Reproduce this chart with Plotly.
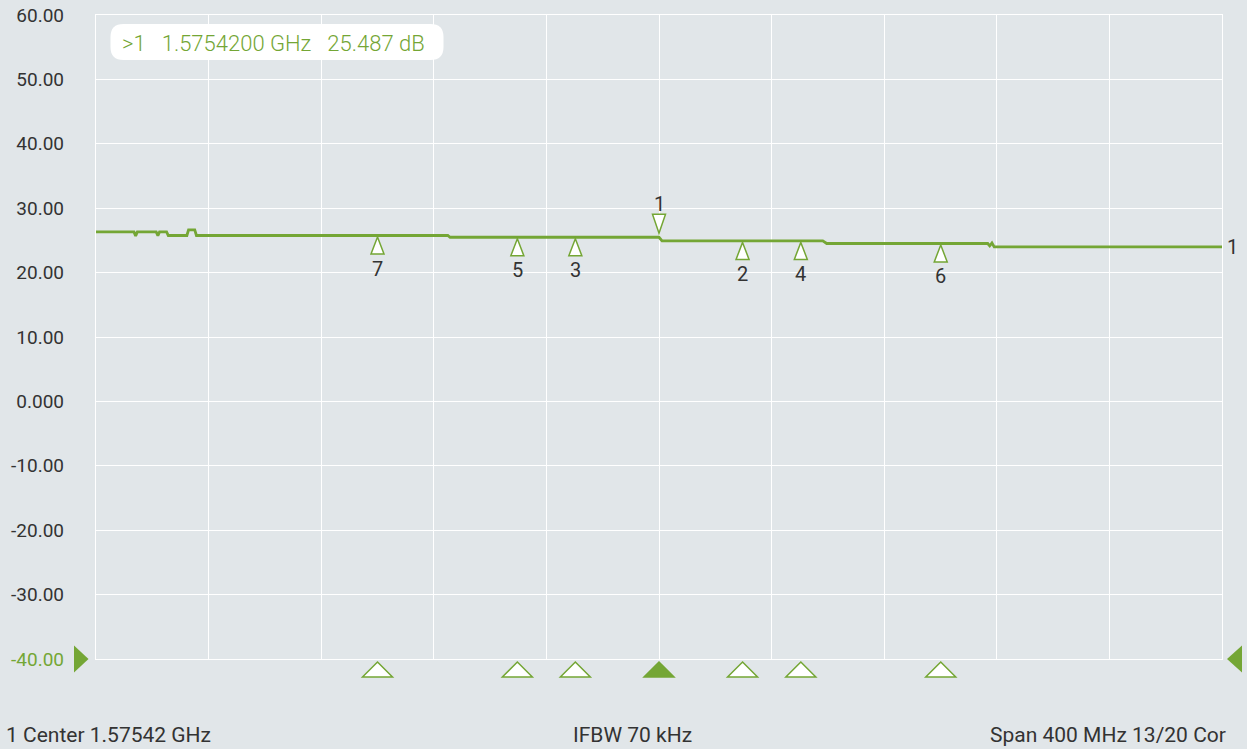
import plotly.graph_objects as go

# ---- data ----
trace_freq_mhz = [1375.42, 1388.9, 1389.5, 1390.1, 1396.8, 1397.4, 1398.0, 1400.5, 1401.1,
                  1407.7, 1408.3, 1410.5, 1411.1, 1500.4, 1501.2, 1575.42, 1576.5,
                  1633.6, 1635.0, 1692.2, 1692.9, 1693.7, 1694.5, 1775.42]
trace_db = [26.32, 26.32, 25.70, 26.32, 26.32, 25.75, 26.32, 26.32, 25.76,
            25.76, 26.63, 26.63, 25.76, 25.76, 25.49, 25.49, 24.92,
            24.92, 24.52, 24.52, 24.15, 24.60, 23.99, 23.99]

marker_ids = ["7", "5", "3", "1", "2", "4", "6"]
marker_freq_mhz = [1475.42, 1525.1, 1545.7, 1575.42, 1605.1, 1625.8, 1675.5]
marker_db = [25.76, 25.49, 25.49, 25.487, 24.92, 24.92, 24.52]
active_marker = "1"

y_tickvals = [60, 50, 40, 30, 20, 10, 0, -10, -20, -30, -40]
y_ticktext = ["60.00", "50.00", "40.00", "30.00", "20.00", "10.00", "0.000",
              "-10.00", "-20.00", "-30.00", "-40.00"]

center_ghz = 1.57542
span_mhz = 400
readout = ">1   1.5754200 GHz   25.487 dB"
footer_left = "1 Center 1.57542 GHz"
footer_mid = "IFBW 70 kHz"
footer_right = "Span 400 MHz 13/20 Cor"

# ---- style ----
GREEN = "#74a635"
BG = "#e1e6e9"
TXT = "#333333"
FONT = "Roboto"
ML, MR, MT, MB = 95.5, 25, 15, 90

x_min = center_ghz * 1000 - span_mhz / 2
x_max = center_ghz * 1000 + span_mhz / 2
y_min, y_max = -40, 60


def tri_path(tip_y, base_y, half_w):
    # pixel path (y up) of a triangle with tip at (0, tip_y) and base at base_y
    return f"M0,{tip_y} L{half_w},{base_y} L{-half_w},{base_y} Z"


fig = go.Figure()
fig.add_trace(go.Scatter(
    x=trace_freq_mhz, y=trace_db, mode="lines",
    line=dict(color=GREEN, width=2.8), hoverinfo="skip", showlegend=False))

shapes = []
annotations = []
for mid, f, v in zip(marker_ids, marker_freq_mhz, marker_db):
    active = mid == active_marker
    # marker symbol on the trace
    shapes.append(dict(
        type="path", xref="x", yref="y", xsizemode="pixel", ysizemode="pixel",
        xanchor=f, yanchor=v,
        path=tri_path(4, 23, 6.5) if active else tri_path(-1.5, -18.5, 6.5),
        fillcolor="white", line=dict(color=GREEN, width=1.5), layer="above"))
    # marker symbol in the bottom strip
    shapes.append(dict(
        type="path", xref="x", yref="paper", xsizemode="pixel", ysizemode="pixel",
        xanchor=f, yanchor=0, path=tri_path(-3, -18, 15),
        fillcolor=GREEN if active else "white", line=dict(color=GREEN, width=1.5),
        layer="above"))
    annotations.append(dict(x=f, y=v, text=mid, showarrow=False,
                            yshift=33 if active else -33,
                            font=dict(family=FONT, size=20, color=TXT)))

# reference-level pointers at the bottom gridline
shapes.append(dict(type="path", xref="paper", yref="paper", xsizemode="pixel",
                   ysizemode="pixel", xanchor=0, yanchor=0,
                   path="M-7.5,0 L-22,13.5 L-22,-13.5 Z", fillcolor=GREEN,
                   line=dict(width=0), layer="above"))
shapes.append(dict(type="path", xref="paper", yref="paper", xsizemode="pixel",
                   ysizemode="pixel", xanchor=1, yanchor=0,
                   path="M5,0 L20,13.5 L20,-13.5 Z", fillcolor=GREEN,
                   line=dict(width=0), layer="above"))

annotations.append(dict(x=x_max, y=trace_db[-1], text="1", showarrow=False,
                        xanchor="left", xshift=3,
                        font=dict(family=FONT, size=20, color=TXT)))

# rounded readout box
r = 13
bx0, by0, bw, bh = 14.5, -9, 333, 36
path = (f"M{bx0+r},{by0} L{bx0+bw-r},{by0} Q{bx0+bw},{by0} {bx0+bw},{by0-r} "
        f"L{bx0+bw},{by0-bh+r} Q{bx0+bw},{by0-bh} {bx0+bw-r},{by0-bh} "
        f"L{bx0+r},{by0-bh} Q{bx0},{by0-bh} {bx0},{by0-bh+r} "
        f"L{bx0},{by0-r} Q{bx0},{by0} {bx0+r},{by0} Z")
shapes.append(dict(type="path", xref="paper", yref="paper", xsizemode="pixel",
                   ysizemode="pixel", xanchor=0, yanchor=1, path=path,
                   fillcolor="white", line=dict(width=0), layer="above"))
annotations.append(dict(xref="paper", yref="paper", x=0, y=1, xanchor="left",
                        yanchor="middle", xshift=24, yshift=-28, text=readout,
                        showarrow=False,
                        font=dict(family=FONT, size=22, color=GREEN, weight=300)))

annotations.append(dict(xref="paper", yref="paper", x=0, y=0, xanchor="left",
                        yanchor="middle", xshift=-92, yshift=-76, text=footer_left,
                        showarrow=False, font=dict(family=FONT, size=21, color=TXT)))
annotations.append(dict(xref="paper", yref="paper", x=0.5, y=0, xanchor="left",
                        yanchor="middle", xshift=-88, yshift=-76, text=footer_mid,
                        showarrow=False, font=dict(family=FONT, size=21, color=TXT)))
annotations.append(dict(xref="paper", yref="paper", x=1, y=0, xanchor="right",
                        yanchor="middle", xshift=6, yshift=-76, text=footer_right,
                        showarrow=False, font=dict(family=FONT, size=21, color=TXT)))

ticktext = [t if v != y_min else f"<span style='color:{GREEN}'>{t}</span>"
            for v, t in zip(y_tickvals, y_ticktext)]

fig.update_layout(
    width=1247, height=749, autosize=False,
    margin=dict(l=ML, r=MR, t=MT, b=MB, autoexpand=False),
    paper_bgcolor=BG, plot_bgcolor=BG,
    font=dict(family=FONT, size=19, color=TXT),
    xaxis=dict(range=[x_min, x_max], tick0=x_min, dtick=span_mhz / 10,
               showticklabels=False, showgrid=True, gridcolor="white", gridwidth=1.3,
               zeroline=False, showline=True, linecolor="white", linewidth=1.3,
               mirror=True, fixedrange=True),
    yaxis=dict(range=[y_min, y_max], tickvals=y_tickvals, ticktext=ticktext,
               showgrid=True, gridcolor="white", gridwidth=1.3, zeroline=False,
               showline=True, linecolor="white", linewidth=1.3, mirror=True,
               ticklabelstandoff=27, tickfont=dict(family=FONT, size=19, color=TXT),
               fixedrange=True),
    annotations=annotations, shapes=shapes,
)

post = ("document.body.style.margin='0';"
        "var gd=document.getElementById('{plot_id}');"
        "gd.style.position='absolute';gd.style.left='0px';gd.style.top='0px';")
fig.write_html("out.html", post_script=post, config={"displayModeBar": False})
